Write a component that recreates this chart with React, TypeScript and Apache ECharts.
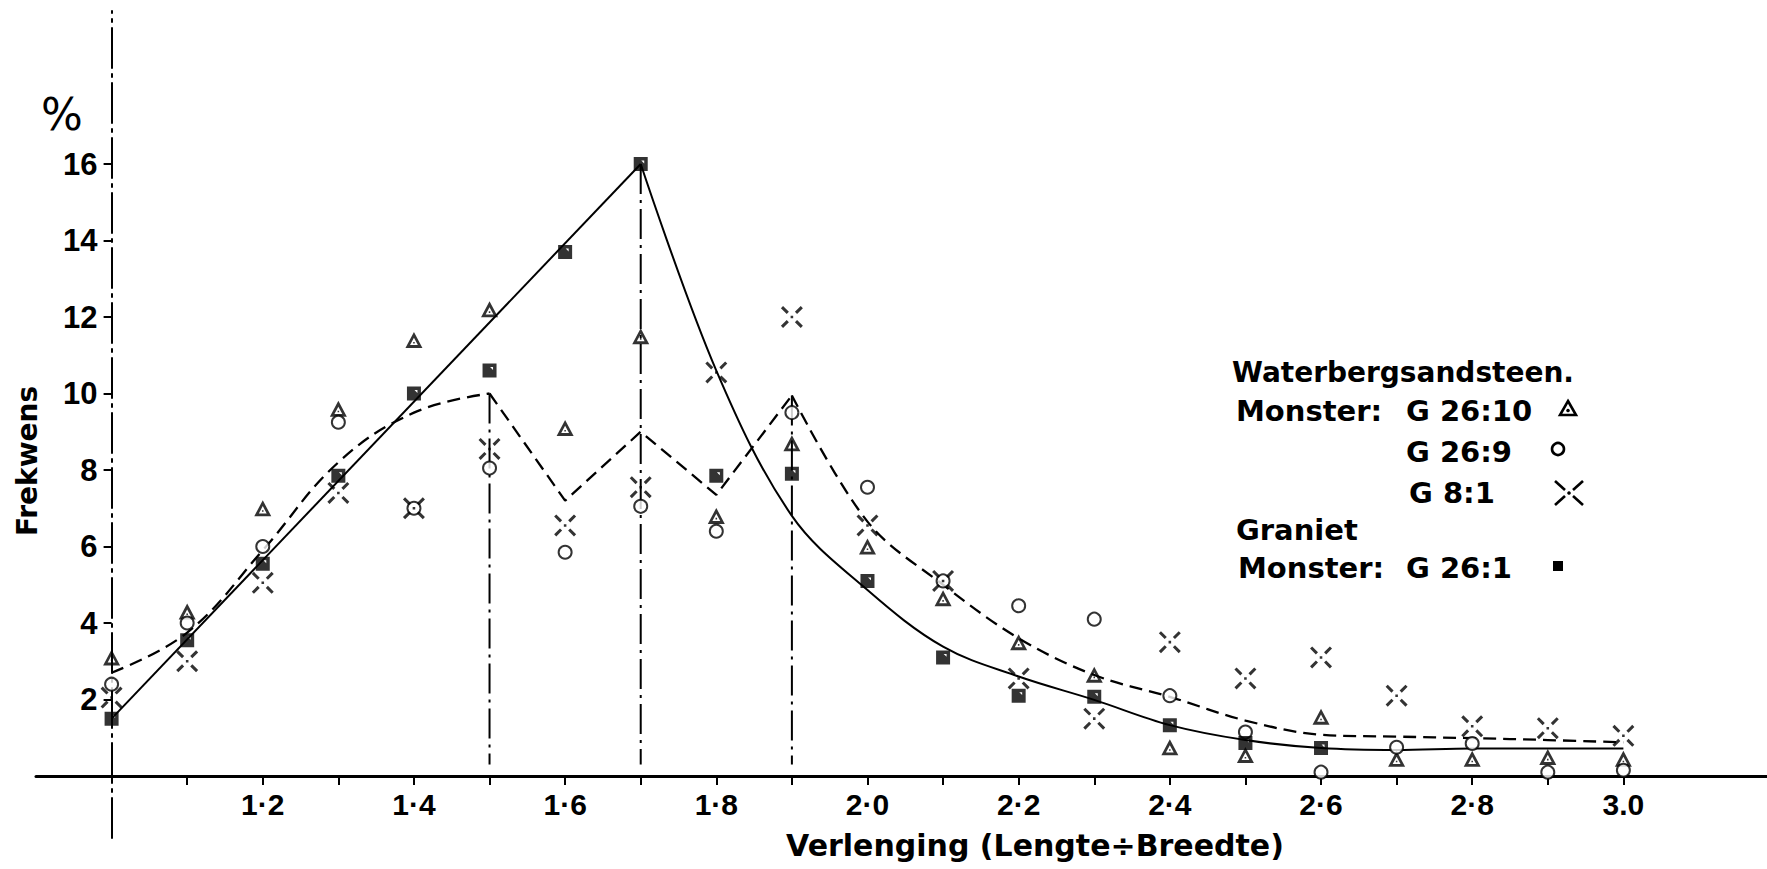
import React, { useEffect, useRef } from "react";
import * as echarts from "echarts";

// ---- data ----
const xValues = [1.0, 1.1, 1.2, 1.3, 1.4, 1.5, 1.6, 1.7, 1.8, 1.9, 2.0, 2.1, 2.2, 2.3, 2.4, 2.5, 2.6, 2.7, 2.8, 2.9, 3.0];
// Waterbergsandsteen, Monster G 26:10 (triangles)
const g2610 = [3.1, 4.3, 7.0, 9.6, 11.4, 12.2, 9.1, 11.5, 6.8, 8.7, 6.0, 4.65, 3.5, 2.65, 0.75, 0.55, 1.55, 0.45, 0.45, 0.5, 0.45];
// G 26:9 (circles)
const g269 = [2.4, 4.0, 6.0, 9.25, 7.0, 8.05, 5.85, 7.05, 6.4, 9.5, 7.55, 5.1, 4.45, 4.1, 2.1, 1.15, 0.1, 0.75, 0.85, 0.1, 0.15];
// G 8:1 (crosses)
const g81 = [2.05, 3.0, 5.05, 7.4, 7.0, 8.55, 6.55, 7.55, 10.55, 12.0, 6.55, 5.1, 2.55, 1.5, 3.5, 2.55, 3.1, 2.1, 1.3, 1.25, 1.05];
// Graniet, Monster G 26:1 (squares)
const g261 = [1.5, 3.55, 5.55, 7.85, 10.0, 10.6, 13.7, 16.0, 7.85, 7.9, 5.1, 3.1, 2.1, 2.07, 1.33, 0.86, 0.73, null, null, null, null];

// solid curve (Graniet)
const graniteRiseX = [1.0, 1.7];
const graniteRiseY = [1.5, 16.0];
const graniteFallX = [1.7, 1.8, 1.9, 2.0, 2.1, 2.2, 2.3, 2.4, 2.5, 2.6, 2.7, 2.8, 2.9, 3.0];
const graniteFallY = [16.0, 10.6, 6.8, 4.86, 3.38, 2.6, 1.99, 1.33, 0.94, 0.73, 0.68, 0.72, 0.72, 0.72];

// dashed curve (Waterbergsandsteen)
const sandRiseX = [1.0, 1.1, 1.2, 1.3, 1.4, 1.5];
const sandRiseY = [2.7, 3.75, 5.9, 8.2, 9.5, 10.0];
const sandZigX = [1.5, 1.6, 1.7, 1.8, 1.9];
const sandZigY = [10.0, 7.2, 9.0, 7.35, 9.95];
const sandFallX = [1.9, 2.0, 2.1, 2.2, 2.3, 2.4, 2.5, 2.6, 2.7, 2.8, 2.9, 3.0];
const sandFallY = [9.95, 6.65, 5.0, 3.6, 2.64, 2.07, 1.45, 1.08, 1.03, 0.99, 0.94, 0.88];

// dash-dot drop lines
const dropX = [1.5, 1.7, 1.9];
const dropTop = [10.0, 16.0, 9.95];
const dropBottom = 0.3;

// ticks & labels
const xTickValues = [1.1, 1.2, 1.3, 1.4, 1.5, 1.6, 1.7, 1.8, 1.9, 2.0, 2.1, 2.2, 2.3, 2.4, 2.5, 2.6, 2.7, 2.8, 2.9, 3.0];
const xLabelValues = [1.2, 1.4, 1.6, 1.8, 2.0, 2.2, 2.4, 2.6, 2.8, 3.0];
const xLabelTexts = ["1·2", "1·4", "1·6", "1·8", "2·0", "2·2", "2·4", "2·6", "2·8", "3.0"];
const yLabelValues = [2, 4, 6, 8, 10, 12, 14, 16];
const yLabelTexts = ["2", "4", "6", "8", "10", "12", "14", "16"];

const xTitle = "Verlenging (Lengte÷Breedte)";
const yTitle = "Frekwens";
const yUnit = "%";

const TRI_PATH =
  "path://M10,0 L20,18 L0,18 Z M10,6.6 L5.4,14.8 L14.6,14.8 Z M9.1,11.2 L10.9,11.2 L10.9,13 L9.1,13 Z";
const CROSS_PATH =
  "path://M2.42,0.58 L7.42,5.58 L5.58,7.42 L0.58,2.42 Z " +
  "M17.58,0.58 L19.42,2.42 L14.42,7.42 L12.58,5.58 Z " +
  "M0.58,17.58 L5.58,12.58 L7.42,14.42 L2.42,19.42 Z " +
  "M12.58,14.42 L14.42,12.58 L19.42,17.58 L17.58,19.42 Z " +
  "M8.9,8.9 L11.1,8.9 L11.1,11.1 L8.9,11.1 Z";
const SQUARE_PATH = "path://M0,0 L12,0 L12,12 L0,12 Z M6.5,3 L9,5.5 L9,3 Z";

const zip = (xs: number[], ys: (number | null)[]) =>
  xs.map((x, i) => (ys[i] === null ? [x, "-"] : [x, ys[i]]));

const GRID_LEFT = 36;
const GRID_TOP = 11;
const GRID_W = 1731;
const PLOT_H = 765; // y 0..20
const EXT_H = 827; // y -1.63..20 (axis line continues below the x axis)
const X_MIN = 0.9;
const X_MAX = 3.19;
const Y_MAX = 20;
const Y_EXT_MIN = -1.63;

const LABEL_FONT = '"Liberation Sans", Arial, sans-serif';
const TEXT_FONT = '"DejaVu Sans", sans-serif';

export default function App() {
  const ref = useRef<HTMLDivElement>(null);

  useEffect(() => {
    if (!ref.current) return;
    document.body.style.margin = "0";
    const chart = echarts.init(ref.current, null, { renderer: "svg" });

    const yAxisOffset = -(GRID_W * (xValues[0] - X_MIN)) / (X_MAX - X_MIN);

    const solid = { color: "#000", width: 2, type: "solid" as const };
    const dashed = { color: "#000", width: 2.3, type: [13, 7] as any };
    const dashDot = { color: "#000", width: 2, type: [30, 6, 3, 6] as any };

    const lineBase = {
      type: "line" as const,
      symbol: "none",
      silent: true,
      z: 2,
      clip: false,
      xAxisIndex: 0,
      yAxisIndex: 0,
    };

    const scatterBase = {
      type: "scatter" as const,
      xAxisIndex: 0,
      yAxisIndex: 0,
      clip: false,
      silent: true,
      itemStyle: { color: "#000" },
      z: 4,
    };

    const series: any[] = [
      { ...lineBase, name: "graniteRise", data: zip(graniteRiseX, graniteRiseY), lineStyle: solid },
      { ...lineBase, name: "graniteFall", data: zip(graniteFallX, graniteFallY), lineStyle: solid, smooth: 0.35 },
      { ...lineBase, name: "sandRise", data: zip(sandRiseX, sandRiseY), lineStyle: dashed, smooth: 0.4 },
      { ...lineBase, name: "sandZig", data: zip(sandZigX, sandZigY), lineStyle: dashed },
      { ...lineBase, name: "sandFall", data: zip(sandFallX, sandFallY), lineStyle: dashed, smooth: 0.35 },
      ...dropX.map((x, i) => ({
        ...lineBase,
        name: "drop" + i,
        data: [
          [x, dropTop[i]],
          [x, dropBottom],
        ],
        lineStyle: dashDot,
      })),
      { ...scatterBase, name: "G 26:10", data: zip(xValues, g2610), symbol: TRI_PATH, symbolSize: [17, 16] },
      {
        ...scatterBase,
        name: "G 26:9",
        data: zip(xValues, g269),
        symbol: "emptyCircle",
        symbolSize: 13,
        itemStyle: { color: "#000", borderColor: "#000", borderWidth: 3 },
      },
      { ...scatterBase, name: "G 8:1", data: zip(xValues, g81), symbol: CROSS_PATH, symbolSize: 22 },
      { ...scatterBase, name: "G 26:1", data: zip(xValues, g261), symbol: SQUARE_PATH, symbolSize: 14, z: 5 },
    ];

    const txt = (text: string, x: number, y: number, size: number, extra: any = {}) => ({
      type: "text",
      x,
      y,
      silent: true,
      style: {
        text,
        fill: "#000",
        font: `bold ${size}px ${TEXT_FONT}`,
        align: "left",
        verticalAlign: "middle",
        ...extra,
      },
    });

    const legendStroke = { stroke: "#000", lineWidth: 2.6, fill: "none" };

    const graphic: any[] = [
      txt(xTitle, 1035, 845, 30, { align: "center" }),
      {
        type: "text",
        x: 27,
        y: 461,
        rotation: Math.PI / 2,
        silent: true,
        style: {
          text: yTitle,
          fill: "#000",
          font: `bold 28px ${TEXT_FONT}`,
          align: "center",
          verticalAlign: "middle",
        },
      },
      {
        type: "text",
        x: 62,
        y: 114,
        silent: true,
        style: {
          text: yUnit,
          fill: "#000",
          font: `44px ${TEXT_FONT}`,
          align: "center",
          verticalAlign: "middle",
        },
      },
      txt("Waterbergsandsteen.", 1232, 372, 28),
      txt("Monster:", 1236, 411, 29),
      txt("G 26:10", 1406, 411, 29),
      txt("G 26:9", 1406, 452, 29),
      txt("G 8:1", 1409, 493, 29),
      txt("Graniet", 1236, 530, 29),
      txt("Monster:", 1238, 568, 29),
      txt("G 26:1", 1406, 568, 29),
      {
        type: "group",
        x: 1568,
        y: 409,
        silent: true,
        children: [
          { type: "polygon", shape: { points: [[0, -8], [8, 6], [-8, 6]] }, style: legendStroke },
          { type: "circle", shape: { cx: 0, cy: 1.5, r: 1.8 }, style: { fill: "#000" } },
        ],
      },
      {
        type: "group",
        x: 1558,
        y: 449,
        silent: true,
        children: [{ type: "circle", shape: { cx: 0, cy: 0, r: 6 }, style: legendStroke }],
      },
      {
        type: "group",
        x: 1569,
        y: 493,
        silent: true,
        children: [
          { type: "line", shape: { x1: -14, y1: -12, x2: -4, y2: -3 }, style: legendStroke },
          { type: "line", shape: { x1: 14, y1: -12, x2: 4, y2: -3 }, style: legendStroke },
          { type: "line", shape: { x1: -14, y1: 12, x2: -4, y2: 3 }, style: legendStroke },
          { type: "line", shape: { x1: 14, y1: 12, x2: 4, y2: 3 }, style: legendStroke },
          { type: "circle", shape: { cx: 0, cy: 0, r: 1.8 }, style: { fill: "#000" } },
        ],
      },
      {
        type: "group",
        x: 1558,
        y: 566,
        silent: true,
        children: [{ type: "rect", shape: { x: -5, y: -5, width: 10, height: 10 }, style: { fill: "#000" } }],
      },
    ];

    const findLabel = (v: number, vals: number[], texts: string[]) => {
      const i = vals.findIndex((a) => Math.abs(a - v) < 1e-6);
      return i >= 0 ? texts[i] : "";
    };

    chart.setOption({
      animation: false,
      backgroundColor: "#fff",
      grid: [
        { left: GRID_LEFT, top: GRID_TOP, width: GRID_W, height: PLOT_H, containLabel: false, outerBoundsMode: "none" },
        { left: GRID_LEFT, top: GRID_TOP, width: GRID_W, height: EXT_H, containLabel: false, outerBoundsMode: "none" },
      ],
      xAxis: [
        {
          type: "value",
          gridIndex: 0,
          min: X_MIN,
          max: X_MAX,
          splitLine: { show: false },
          axisLine: { show: true, onZero: false, lineStyle: { color: "#000", width: 3 } },
          axisTick: {
            show: true,
            customValues: xTickValues,
            length: 9,
            inside: false,
            lineStyle: { color: "#000", width: 2 },
          },
          axisLabel: {
            show: true,
            customValues: xLabelValues,
            formatter: (v: number) => findLabel(v, xLabelValues, xLabelTexts),
            margin: 13,
            color: "#000",
            fontFamily: LABEL_FONT,
            fontWeight: "bold",
            fontSize: 30,
            hideOverlap: false,
          },
        },
        {
          type: "value",
          gridIndex: 1,
          min: X_MIN,
          max: X_MAX,
          show: false,
        },
      ],
      yAxis: [
        {
          type: "value",
          gridIndex: 0,
          min: 0,
          max: Y_MAX,
          offset: yAxisOffset,
          splitLine: { show: false },
          axisLine: { show: false, onZero: false },
          axisTick: {
            show: true,
            customValues: yLabelValues,
            length: 8,
            inside: false,
            lineStyle: { color: "#000", width: 2 },
          },
          axisLabel: {
            show: true,
            customValues: yLabelValues,
            formatter: (v: number) => findLabel(v, yLabelValues, yLabelTexts),
            margin: 14,
            color: "#000",
            fontFamily: LABEL_FONT,
            fontWeight: "bold",
            fontSize: 31,
            hideOverlap: false,
          },
        },
        {
          type: "value",
          gridIndex: 1,
          min: Y_EXT_MIN,
          max: Y_MAX,
          offset: yAxisOffset,
          splitLine: { show: false },
          axisTick: { show: false },
          axisLabel: { show: false },
          axisLine: { show: true, onZero: false, lineStyle: { color: "#000", width: 2, type: [40, 6, 3, 6] } },
        },
      ],
      tooltip: { show: false },
      legend: { show: false },
      series,
      graphic,
    });

    return () => {
      chart.dispose();
    };
  }, []);

  return (
    <div style={{ position: "fixed", left: 0, top: 0, width: 1767, height: 869, background: "#fff" }}>
      <div ref={ref} style={{ width: 1767, height: 869 }} />
    </div>
  );
}
